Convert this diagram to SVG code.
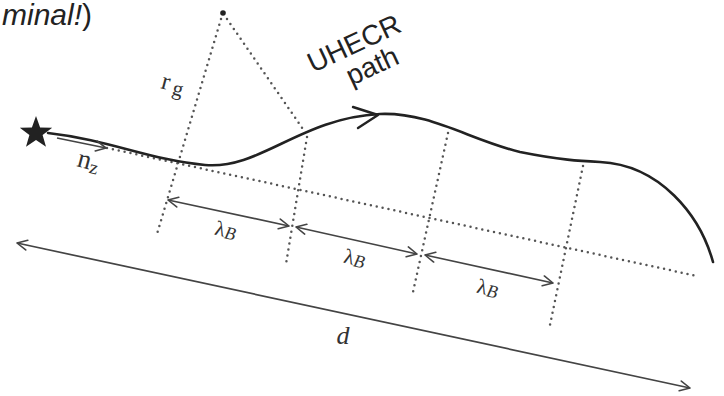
<svg xmlns="http://www.w3.org/2000/svg" width="724" height="396" viewBox="0 0 724 396">
<defs>
<marker id="chev" viewBox="0 0 12 12" refX="11" refY="6" markerWidth="12" markerHeight="12" markerUnits="userSpaceOnUse" orient="auto-start-reverse">
<path d="M1,1 L11,6 L1,11" fill="none" stroke="#444" stroke-width="1.6" stroke-linecap="round" stroke-linejoin="round"/>
</marker>
<style>
.dot{fill:none;stroke:#555;stroke-width:2.5;stroke-linecap:round;stroke-dasharray:0 6}
.dim{fill:none;stroke:#444;stroke-width:1.7;marker-start:url(#chev);marker-end:url(#chev)}
.path{fill:none;stroke:#222;stroke-width:2.6;stroke-linecap:round}
.serif{font-family:"Liberation Serif","DejaVu Serif",serif;fill:#333}
.sans{font-family:"Liberation Sans",Arial,sans-serif;fill:#222}
</style>
</defs>
<rect width="724" height="396" fill="#fff"/>

<text class="sans" x="2" y="25" font-size="30" fill="#1a1a1a"><tspan font-style="italic">minal!</tspan>)</text>

<g id="guides">
<line class="dot" x1="107" y1="148" x2="697" y2="276"/>
<line class="dot" x1="221" y1="19" x2="157" y2="234"/>
<line class="dot" x1="227" y1="19" x2="305" y2="132"/>
<line class="dot" x1="307" y1="137" x2="286" y2="264"/>
<line class="dot" x1="448" y1="133" x2="413" y2="292"/>
<line class="dot" x1="583" y1="166" x2="550" y2="325"/>
<circle cx="223" cy="13" r="2.8" fill="#222"/>
</g>

<g id="source">
<polygon points="36,116 40.1,127.4 52.2,127.7 42.6,135.1 46,146.8 36,139.9 26,146.8 29.4,135.1 19.8,127.7 31.9,127.4" fill="#222"/>
</g>

<g id="uhecr-path">
<path class="path" d="M48,133 C110,140 150,160 205,165 C260,170 300,118 380,114 C430,112 470,140 520,152 C560,160 580,161 600,162 C660,165 700,215 713,262"/>
<path d="M353,107 L378,115 L358,128" fill="none" stroke="#222" stroke-width="2.4" stroke-linecap="round" stroke-linejoin="round"/>
</g>

<g id="connectors">
<line x1="57" y1="138" x2="106" y2="148" fill="none" stroke="#444" stroke-width="1.7" marker-end="url(#chev)"/>
<line class="dim" x1="168" y1="200" x2="289" y2="226"/>
<line class="dim" x1="296" y1="227" x2="417" y2="254"/>
<line class="dim" x1="425" y1="255" x2="553" y2="283"/>
<line class="dim" x1="17" y1="243" x2="690" y2="388"/>
</g>

<g id="labels">
<g transform="translate(358,52) rotate(-25)" class="sans" font-size="28" text-anchor="middle">
<text x="0" y="0">UHECR</text>
<text x="7" y="28">path</text>
</g>
<text class="serif" transform="translate(160,88) rotate(15)" font-size="25">r<tspan font-size="21" dx="4" dy="3">g</tspan></text>
<text class="serif" transform="translate(76,166) rotate(15)" font-size="27">n<tspan font-size="19" dy="3">z</tspan></text>
<text class="serif" transform="translate(224,237) rotate(13)" font-size="21" text-anchor="middle">λ<tspan font-style="italic" font-size="18" dy="1">B</tspan></text>
<text class="serif" transform="translate(353,265) rotate(13)" font-size="21" text-anchor="middle">λ<tspan font-style="italic" font-size="18" dy="1">B</tspan></text>
<text class="serif" transform="translate(486,295) rotate(13)" font-size="21" text-anchor="middle">λ<tspan font-style="italic" font-size="18" dy="1">B</tspan></text>
<text class="serif" x="343" y="344" font-size="26" font-style="italic" fill="#111" text-anchor="middle">d</text>
</g>
</svg>
